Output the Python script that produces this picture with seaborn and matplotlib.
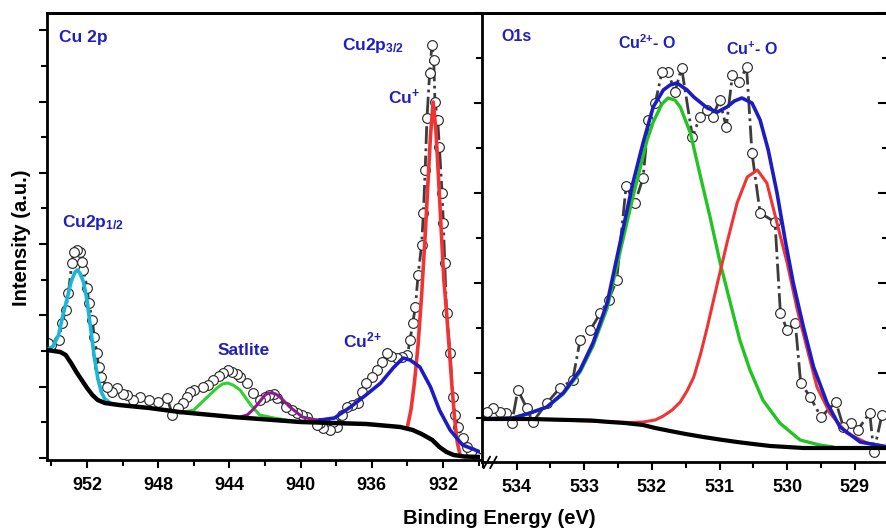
import matplotlib
matplotlib.use("Agg")
import matplotlib.pyplot as plt
from matplotlib.ticker import MultipleLocator
import seaborn as sns

# ---------------- Cu 2p region ----------------
# measured spectrum (binding energy in eV, intensity a.u.)
cu_be = [954.2, 954.0, 953.6, 953.4, 953.2, 953.05, 952.85, 952.75, 952.56, 952.4,
         952.3, 952.2, 952.0, 951.9, 951.7, 951.6, 951.45, 951.35, 951.2, 950.9,
         950.6, 950.3, 950.0, 949.75, 949.4, 949.0, 948.5, 948.0, 947.5, 947.2,
         946.9, 946.6, 946.4, 946.2, 946.0, 945.5, 945.2, 944.9, 944.6, 944.35,
         944.1, 943.85, 943.6, 943.4, 943.0, 942.7, 942.3, 942.0, 941.8, 941.5,
         941.3, 940.8, 940.5, 940.2, 939.9, 939.65, 939.1, 938.9, 938.75, 938.35,
         938.2, 937.95, 937.7, 937.4, 937.1, 936.8, 936.55, 936.3, 936.0, 935.7,
         935.4, 935.15, 934.9, 934.6, 934.3, 934.0, 933.85, 933.7, 933.55, 933.4,
         933.2, 933.1, 933.0, 932.9, 932.75, 932.62, 932.52, 932.45, 932.3, 932.2,
         932.05, 931.98, 931.9, 931.8, 931.6, 931.45, 931.3, 931.15, 930.9, 930.65,
         930.4, 930.1]
cu_int = [117, 115, 120, 137, 150, 167, 197, 208, 210, 208,
          198, 190, 172, 157, 140, 123, 107, 93, 83, 73,
          68, 72, 66, 65, 60, 63, 60, 58, 62, 45,
          52, 57, 63, 68, 70, 73, 75, 80, 84, 87,
          90, 88, 86, 83, 77, 67, 60, 63, 65, 66,
          62, 53, 50, 47, 45, 43, 35, 37, 32, 30,
          38, 33, 45, 53, 55, 57, 68, 77, 83, 90,
          98, 107, 104, 102, 103, 105, 120, 137, 153, 185,
          215, 247, 290, 342, 387, 415, 400, 358, 340, 313,
          267, 237, 197, 147, 107, 63, 45, 33, 22, 13,
          8, 3]

# fitted components
cu_bg_be = [954.25, 953.5, 953.2, 952.9, 952.6, 952.3, 952.0, 951.7, 951.4, 951.0,
            950.2, 948.5, 946.8, 943.8, 940.0, 936.3, 934.4, 933.7, 933.2, 932.6,
            932.2, 931.8, 931.4, 930.8, 929.9]
cu_bg = [110, 108, 105, 97, 88, 80, 72, 65, 60, 57,
         55, 52, 48, 43, 38, 36, 33, 30, 26, 20,
         13, 8, 5, 3.5, 3]

p12_be = [954.25, 953.9, 953.6, 953.35, 953.1, 952.9, 952.7, 952.56, 952.4, 952.2,
          952.0, 951.8, 951.6, 951.4, 951.2, 951.0, 950.7]
p12 = [110, 114, 125, 145, 163, 178, 187, 190, 187, 178,
       160, 132, 104, 82, 68, 61, 57]

cu1_be = [934.0, 933.8, 933.6, 933.4, 933.2, 933.0, 932.85, 932.7, 932.55, 932.4,
          932.25, 932.1, 931.95, 931.8, 931.65, 931.5, 931.35, 931.2, 931.05]
cu1 = [33, 50, 78, 115, 165, 225, 275, 325, 358, 330,
       282, 230, 180, 148, 112, 75, 42, 18, 6]

cu2_be = [939.8, 938.9, 938.1, 937.2, 936.4, 935.5, 934.8, 934.25, 933.85, 933.3,
          932.7, 932.2, 931.6, 930.9, 929.9]
cu2 = [38, 40, 42, 53, 64, 77, 92, 102, 100, 93,
       73, 50, 30, 15, 8]

sat1_be = [946.8, 946.0, 945.3, 944.7, 944.4, 944.1, 943.8, 943.4, 942.8, 942.3,
           941.5, 940.8]
sat1 = [47, 50, 62, 72, 76, 77, 75, 70, 55, 45, 42, 40]

sat2_be = [943.4, 943.0, 942.7, 942.45, 942.0, 941.8, 941.6, 941.4, 941.16, 940.6,
           939.9, 939.1]
sat2 = [43, 45, 50, 55, 65, 67, 67, 66, 63, 53, 43, 40]

# ---------------- O 1s region ----------------
o_be = [534.44, 534.35, 534.25, 534.15, 534.07, 533.98, 533.85, 533.76, 533.55, 533.36,
        533.17, 533.06, 532.91, 532.76, 532.64, 532.52, 532.38, 532.25, 532.13, 532.05,
        531.95, 531.85, 531.76, 531.66, 531.56, 531.40, 531.29, 531.18, 531.10, 531.00,
        530.90, 530.81, 530.71, 530.60, 530.52, 530.40, 530.18, 530.10, 530.00, 529.88,
        529.80, 529.66, 529.50, 529.28, 529.17, 529.06, 528.96, 528.78, 528.72, 528.60]
o_int = [50, 54, 50, 49, 39, 72, 54, 40, 59, 74,
         82, 122, 132, 149, 162, 182, 276, 259, 284, 342,
         359, 390, 390, 370, 394, 325, 345, 352, 345, 362,
         335, 387, 380, 395, 309, 249, 240, 149, 132, 139,
         79, 65, 45, 60, 35, 39, 32, 49, 10, 47]

o_bg_be = [534.51, 533.8, 533.21, 532.9, 532.62, 532.4, 532.13, 531.95, 531.73, 531.5,
           531.24, 531.0, 530.74, 530.5, 530.25, 530.0, 529.76, 529.5, 528.5]
o_bg = [43, 43, 42, 41.5, 40, 39, 37, 34, 31, 28,
        25, 22.5, 20, 18, 16, 15, 14, 14, 14]

o_sum_be = [534.54, 534.05, 533.8, 533.55, 533.31, 533.06, 532.87, 532.66, 532.47, 532.28,
            532.13, 531.98, 531.83, 531.73, 531.63, 531.48, 531.38, 531.18, 531.03, 530.89,
            530.78, 530.67, 530.52, 530.4, 530.28, 530.15, 530.03, 529.91, 529.76, 529.61,
            529.41, 529.22, 528.92, 528.51]
o_sum = [43, 44, 49, 55, 69, 92, 119, 159, 219, 279,
         319, 355, 372, 377, 379, 372, 365, 354, 350, 355,
         361, 364, 359, 342, 312, 269, 222, 179, 135, 95,
         59, 35, 20, 15]

o_cu2_be = [534.54, 534.05, 533.8, 533.55, 533.31, 533.06, 532.87, 532.66, 532.47, 532.28,
            532.07, 531.98, 531.85, 531.76, 531.66, 531.58, 531.43, 531.28, 531.14, 530.99,
            530.84, 530.7, 530.55, 530.36, 530.11, 529.81, 529.52, 529.32]
o_cu2 = [43, 44, 49, 55, 68, 90, 116, 154, 210, 265,
         322, 340, 358, 364, 362, 355, 329, 285, 245, 199,
         159, 122, 92, 62, 39, 22, 17, 15]

o_cu1_be = [534.51, 533.5, 532.6, 532.3, 532.13, 531.95, 531.83, 531.7, 531.58, 531.48,
            531.38, 531.28, 531.18, 531.03, 530.89, 530.74, 530.59, 530.44, 530.3, 530.15,
            530.0, 529.85, 529.7, 529.56, 529.37, 529.12, 528.82, 528.51]
o_cu1 = [43, 42.5, 40, 39.5, 40, 42, 46, 52, 60, 71,
         85, 108, 135, 179, 219, 259, 285, 292, 279, 239,
         199, 152, 112, 75, 49, 29, 19, 15]

TXT = "#1f1fbf"

sns.set_style("ticks")
plt.rcParams["font.family"] = ["Liberation Sans", "DejaVu Sans"]
plt.rcParams["font.weight"] = "bold"
plt.rcParams["mathtext.default"] = "regular"
plt.rcParams["axes.edgecolor"] = "black"
plt.rcParams["xtick.color"] = "black"
plt.rcParams["ytick.color"] = "black"
plt.rcParams["text.color"] = "black"

fig = plt.figure(figsize=(8.86, 5.30), dpi=100)
ax1 = fig.add_axes([47 / 886, 70 / 530, 433 / 886, 447 / 530])
ax2 = fig.add_axes([482 / 886, 68 / 530, 406 / 886, 449 / 530])


def spectrum(ax, x, y):
    sns.lineplot(x=x, y=y, ax=ax, estimator=None, color="#3c3c3c", lw=2,
                 linestyle="-.", marker="o", markersize=7,
                 markerfacecolor="white", markeredgecolor="#222222",
                 markeredgewidth=0.8, zorder=2)


def fit(ax, x, y, color, lw=2.6, z=3):
    sns.lineplot(x=x, y=y, ax=ax, estimator=None, color=color, lw=lw, zorder=z)


# left panel
spectrum(ax1, cu_be, cu_int)
fit(ax1, p12_be, p12, "#19b6da")
fit(ax1, cu1_be, cu1, "#f03434")
fit(ax1, cu2_be, cu2, "#1c1cc4")
fit(ax1, sat1_be, sat1, "#2fd12f", lw=2.2)
fit(ax1, sat2_be, sat2, "#8e1a8e", lw=2.2)
fit(ax1, cu_bg_be, cu_bg, "black", lw=3.2, z=4)

# right panel
spectrum(ax2, o_be, o_int)
fit(ax2, o_cu2_be, o_cu2, "#22c422", lw=2.4)
fit(ax2, o_cu1_be, o_cu1, "#f03434", lw=2.2)
fit(ax2, o_sum_be, o_sum, "#1c1cc4", lw=2.6)
fit(ax2, o_bg_be, o_bg, "black", lw=3.0, z=4)

ax1.set_xlim(954.25, 929.92)
ax1.set_ylim(0, 447)
ax2.set_xlim(534.51, 528.51)
ax2.set_ylim(0, 449)

ax1.set_xticks([952, 948, 944, 940, 936, 932])
ax1.xaxis.set_minor_locator(MultipleLocator(2))
ax1.set_yticks([2 + 71.3 * k for k in range(7)])
ax1.set_yticks([37.7 + 71.3 * k for k in range(6)], minor=True)
ax2.set_xticks([534, 533, 532, 531, 530, 529])
ax2.xaxis.set_minor_locator(MultipleLocator(0.5))
ax2.set_yticks([89 + 90 * k for k in range(5)])
ax2.set_yticks([44 + 90 * k for k in range(5)], minor=True)

for ax in (ax1, ax2):
    ax.set_xlabel("")
    ax.set_ylabel("")
    ax.set_yticklabels([])
    ax.tick_params(axis="x", which="major", direction="out", length=6, width=1.5,
                   labelsize=13, pad=6)
    ax.tick_params(axis="x", which="minor", direction="out", length=4, width=1.5)
    ax.tick_params(axis="y", which="major", direction="out", length=6, width=1.5)
    ax.tick_params(axis="y", which="minor", direction="out", length=4, width=1.5)
    for lab in ax.get_xticklabels():
        lab.set_fontweight("bold")
    for s in ax.spines.values():
        s.set_linewidth(2)
    ax.spines["right"].set_visible(False)

ax2.spines["right"].set_visible(True)

# top ticks (inward) and right ticks of O1s panel
top1 = ax1.secondary_xaxis("top", transform=ax1.transAxes)
top1.set_xticks([0.2, 0.4, 0.6, 0.8])
top1.set_xticklabels([])
top1.tick_params(direction="in", length=6, width=1.5)
top1.spines["top"].set_linewidth(2)

top2 = ax2.secondary_xaxis("top", transform=ax2.transAxes)
top2.set_xticks([0.1 * k for k in range(1, 10)])
top2.set_xticklabels([])
top2.tick_params(direction="in", length=5, width=1.5)
top2.spines["top"].set_linewidth(2)

right2 = ax2.secondary_yaxis("right")
right2.set_yticks([89 + 90 * k for k in range(5)])
right2.set_yticks([44 + 90 * k for k in range(5)], minor=True)
right2.set_yticklabels([])
right2.tick_params(which="major", direction="in", length=7, width=1.5)
right2.tick_params(which="minor", direction="in", length=4, width=1.5)

# axis break marks
for x0 in (0.004, 0.02):
    ax2.plot([x0, x0 + 0.016], [-0.014, 0.012], transform=ax2.transAxes,
             color="black", lw=1.3, clip_on=False)

# annotations
ax1.text(0.028, 0.946, "Cu 2p", transform=ax1.transAxes, color=TXT,
         fontsize=12.5, fontweight="bold", va="center")
ax1.text(0.681, 0.928, "Cu2p$_{3/2}$", transform=ax1.transAxes, color=TXT,
         fontsize=12.5, fontweight="bold", va="center")
ax1.text(0.787, 0.812, "Cu$^{+}$", transform=ax1.transAxes, color=TXT,
         fontsize=12.5, fontweight="bold", va="center")
ax1.text(0.035, 0.532, "Cu2p$_{1/2}$", transform=ax1.transAxes, color=TXT,
         fontsize=12.5, fontweight="bold", va="center")
ax1.text(0.393, 0.246, "Satlite", transform=ax1.transAxes, color=TXT,
         fontsize=12.5, fontweight="bold", va="center")
ax1.text(0.684, 0.268, "Cu$^{2{+}}$", transform=ax1.transAxes, color=TXT,
         fontsize=12.5, fontweight="bold", va="center")
ax2.text(0.047, 0.947, "O1s", transform=ax2.transAxes, color=TXT,
         fontsize=11.5, fontweight="bold", va="center")
ax2.text(0.335, 0.935, "Cu$^{2{+}}$- O", transform=ax2.transAxes, color=TXT,
         fontsize=11.5, fontweight="bold", va="center")
ax2.text(0.601, 0.92, "Cu$^{+}$- O", transform=ax2.transAxes, color=TXT,
         fontsize=11.5, fontweight="bold", va="center")

fig.text(499 / 886, 11 / 530, "Binding Energy (eV)", ha="center", va="center",
         fontsize=14.5, fontweight="bold")
fig.text(22 / 886, 1 - 238 / 530, "Intensity (a.u.)", ha="center", va="center",
         rotation=90, fontsize=14.5, fontweight="bold")

fig.savefig("out.png", dpi=100, facecolor="white")
